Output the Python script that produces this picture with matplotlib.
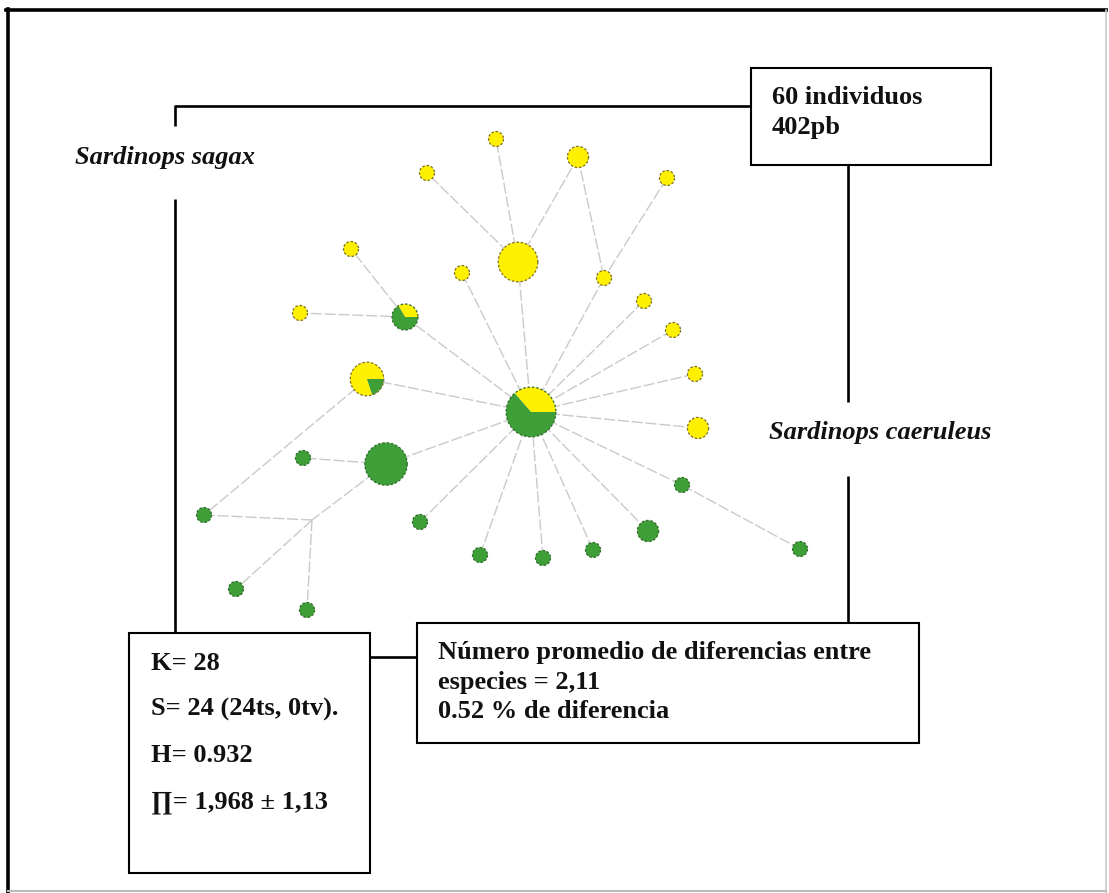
import numpy as np
import matplotlib
matplotlib.use("Agg")
import matplotlib.pyplot as plt
from matplotlib.patches import Wedge, Rectangle

# haplotype network (positions in page pixels, counts per species)
hap_x = [496, 427, 578, 667, 518, 351, 462, 604, 300, 644, 673, 695, 698,
         405, 367, 531, 386, 303, 204, 420, 236, 307, 480, 543, 593, 648,
         682, 800, 312]
hap_y = [139, 173, 157, 178, 262, 249, 273, 278, 313, 301, 330, 374, 428,
         317, 379, 412, 464, 458, 515, 522, 589, 610, 555, 558, 550, 531,
         485, 549, 520]
n_sagax = [1, 1, 2, 1, 7, 1, 1, 1, 1, 1, 1, 1, 2,
           1, 4, 4, 0, 0, 0, 0, 0, 0, 0, 0, 0, 0,
           0, 0, 0]
n_caeruleus = [0, 0, 0, 0, 0, 0, 0, 0, 0, 0, 0, 0, 0,
               2, 1, 7, 8, 1, 1, 1, 1, 1, 1, 1, 1, 2,
               1, 1, 0]

links = [(4, 0), (4, 1), (4, 2), (4, 15), (2, 7), (3, 7), (7, 15), (6, 15),
         (9, 15), (10, 15), (11, 15), (12, 15), (13, 15), (13, 5), (13, 8),
         (14, 15), (14, 18), (16, 15), (16, 17), (16, 28), (28, 18), (28, 20),
         (28, 21), (19, 15), (22, 15), (23, 15), (24, 15), (25, 15), (26, 15),
         (26, 27)]

stats_lines = ["K= 28", "S= 24 (24ts, 0tv).", "H= 0.932", "\u220f= 1,968 \u00b1 1,13"]
sample_lines = ["60 individuos", "402pb"]
diff_lines = ["Número promedio de diferencias entre", "especies = 2,11",
              "0.52 % de diferencia"]

YELLOW = "#FFEF00"
GREEN = "#3E9F38"
serif = ["Liberation Serif", "DejaVu Serif"]

W, H = 1109, 893
fig = plt.figure(figsize=(W / 100, H / 100), dpi=100)
ax = fig.add_axes([0, 0, 1, 1])
ax.set_xlim(0, W)
ax.set_ylim(H, 0)
ax.axis("off")

# page frame
ax.plot([6, 1106], [10, 10], color="black", lw=2.6)
ax.plot([8, 8], [9, 893], color="black", lw=2.6)
ax.plot([1106, 1106], [10, 893], color="#c8c8c8", lw=1.2)
ax.plot([8, 1106], [891, 891], color="#bbbbbb", lw=1.5)

# network links
for a, b in links:
    ax.plot([hap_x[a], hap_x[b]], [hap_y[a], hap_y[b]], color="#cacaca",
            lw=1.0, ls=(0, (8, 2)), zorder=1)

# haplotype circles, area proportional to frequency;
# the sagax slice starts at 3 o'clock and runs counter-clockwise
for x, y, ns, nc in zip(hap_x, hap_y, n_sagax, n_caeruleus):
    n = ns + nc
    if n == 0:
        continue
    r = 7.5 * np.sqrt(n)
    span = 360.0 * ns / n
    # y axis is inverted, so page angles are negated
    if ns:
        ax.add_patch(Wedge((x, y), r, -span, 0, facecolor=YELLOW,
                           edgecolor="none", zorder=3))
    if nc:
        ax.add_patch(Wedge((x, y), r, -360, -span, facecolor=GREEN,
                           edgecolor="none", zorder=3))
    edge = "#7a6f2a" if ns >= nc else "#2f6b2a"
    ax.add_patch(Wedge((x, y), r, 0, 360, facecolor="none", edgecolor=edge,
                       lw=0.9, ls=(0, (2, 1.5)), zorder=4))

# brackets joining the boxes
blk = dict(color="black", lw=1.9, solid_capstyle="butt")
ax.plot([175, 751], [106, 106], **blk)
ax.plot([175, 175], [105, 126], **blk)
ax.plot([175, 175], [199, 633], **blk)
ax.plot([848, 848], [165, 402], **blk)
ax.plot([848, 848], [476, 623], **blk)
ax.plot([370, 417], [657, 657], **blk)

# boxes
for x0, y0, x1, y1 in [(751, 68, 991, 165), (129, 633, 370, 873),
                       (417, 623, 919, 743)]:
    ax.add_patch(Rectangle((x0, y0), x1 - x0, y1 - y0, facecolor="white",
                           edgecolor="black", lw=1.5, zorder=5))

txt = dict(family=serif, fontsize=19, fontweight="bold", color="#111111",
           va="baseline", ha="left", zorder=6)
for s, yb in zip(sample_lines, [104, 134]):
    ax.text(772, yb, s, **txt)
for s, yb in zip(stats_lines, [670, 716, 762, 808]):
    ax.text(151, yb, s, **txt)
for s, yb in zip(diff_lines, [659, 689, 718]):
    ax.text(438, yb, s, **txt)

sp = dict(txt, style="italic")
ax.text(75, 164, "Sardinops sagax", **sp)
ax.text(769, 439, "Sardinops caeruleus", **sp)

fig.savefig("out.png", dpi=100, facecolor="white")
